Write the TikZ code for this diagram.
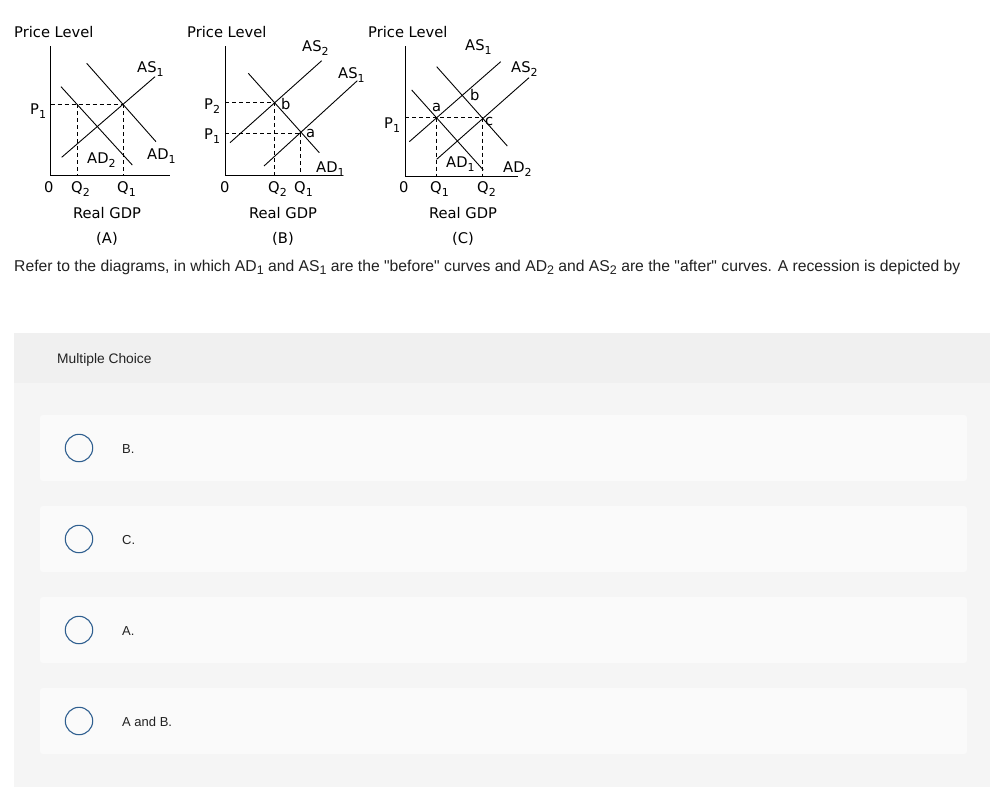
\documentclass[tikz,border=0pt]{standalone}
\usepackage{fontspec}
\setmainfont{Liberation Sans}
\newfontfamily\dgfont{DejaVu Sans}
\newcommand\sbs[1]{\raisebox{-0.6ex}{\fontsize{11}{11}\selectfont #1}}
\newcommand\tsb[1]{\raisebox{-0.45ex}{\fontsize{12.5}{12.5}\selectfont #1}}
\definecolor{txt}{HTML}{222222}
\definecolor{hdr}{HTML}{F0F0F0}
\definecolor{panel}{HTML}{F5F5F5}
\definecolor{optbg}{HTML}{FAFAFA}
\definecolor{radio}{HTML}{2F5F8F}
\tikzset{
  curve/.style={line width=0.9pt},
  axisline/.style={line width=1pt},
  guide/.style={line width=0.8pt, dash pattern=on 4pt off 3pt},
  lbl/.style={font=\dgfont\fontsize{14.7}{14.7}\selectfont, inner sep=0pt, anchor=base west},
  clbl/.style={font=\dgfont\fontsize{14.7}{14.7}\selectfont, inner sep=0pt, anchor=base},
  optbox/.style={fill=optbg, draw=none, rounded corners=3pt},
  radiobtn/.style={circle, draw=radio, line width=1.1pt, minimum size=27.4pt, inner sep=0pt},
  opttxt/.style={font=\fontsize{13}{13}\selectfont, text=txt, inner sep=0pt, anchor=base west}
}
\begin{document}
\begin{tikzpicture}[x=1pt,y=-1pt]
\useasboundingbox (0,0) rectangle (990,787);
\fill[white] (0,0) rectangle (990,787);

% ---------- Graph A ----------
\coordinate (Atop) at (50.7,46);
\coordinate (Ao) at (50.7,175);
\coordinate (Aend) at (170,175);
\draw[axisline] (Atop) -- (Ao) -- (Aend);
\coordinate (AAS1s) at (61.7,157.3); \coordinate (AAS1e) at (155,76.7);
\coordinate (AAD1s) at (86.7,63.3);  \coordinate (AAD1e) at (156,141.7);
\coordinate (AAD2s) at (61,86.7);    \coordinate (AAD2e) at (132.3,165);
\draw[curve] (AAS1s) -- (AAS1e);
\draw[curve] (AAD1s) -- (AAD1e);
\draw[curve] (AAD2s) -- (AAD2e);
\coordinate (AP1) at (50.7,104.3);
\coordinate (Ae1) at (123.3,104.3);
\coordinate (Ae2) at (77.3,104.3);
\coordinate (AQ1) at (123.3,175);
\coordinate (AQ2) at (77.3,175);
\draw[guide] (AP1) -- (Ae1);
\draw[guide] (Ae2) -- (AQ2);
\draw[guide] (Ae1) -- (AQ1);
\node[lbl] (Aplv) at (14,37) {Price Level};
\node[lbl] (AlP1) at (30,114) {P\sbs{1}};
\node[lbl] (AlAS1) at (137,72) {AS\sbs{1}};
\node[lbl] (AlAD1) at (147,159) {AD\sbs{1}};
\node[lbl] (AlAD2) at (87,163) {AD\sbs{2}};
\node[lbl] (Al0) at (44,192) {0};
\node[lbl] (AlQ2) at (71,192) {Q\sbs{2}};
\node[lbl] (AlQ1) at (117,192) {Q\sbs{1}};
\node[clbl] (Argdp) at (107,218) {Real GDP};
\node[clbl] (Acap) at (107,243) {(A)};

% ---------- Graph B ----------
\coordinate (Btop) at (225,46);
\coordinate (Bo) at (225,175);
\coordinate (Bend) at (340,175);
\draw[axisline] (Btop) -- (Bo) -- (Bend);
\coordinate (BAS2s) at (230,142.7); \coordinate (BAS2e) at (321.7,60.7);
\coordinate (BAS1s) at (264,166);   \coordinate (BAS1e) at (357.3,80.7);
\coordinate (BAD1s) at (248.3,73.3); \coordinate (BAD1e) at (319.3,152.7);
\draw[curve] (BAS2s) -- (BAS2e);
\draw[curve] (BAS1s) -- (BAS1e);
\draw[curve] (BAD1s) -- (BAD1e);
\coordinate (BP2) at (225,102);
\coordinate (Bb) at (274,102);
\coordinate (BP1) at (225,133.3);
\coordinate (Ba) at (300,133.3);
\coordinate (BQ2) at (274,175);
\coordinate (BQ1) at (300,175);
\draw[guide] (BP2) -- (Bb);
\draw[guide] (Bb) -- (BQ2);
\draw[guide] (BP1) -- (Ba);
\draw[guide] (Ba) -- (BQ1);
\node[lbl] (Bplv) at (187,37) {Price Level};
\node[lbl] (BlAS2) at (302,51) {AS\sbs{2}};
\node[lbl] (BlAS1) at (338,78) {AS\sbs{1}};
\node[lbl] (BlP2) at (204,109) {P\sbs{2}};
\node[lbl] (BlP1) at (204,139) {P\sbs{1}};
\node[lbl] (Blb) at (281,109) {b};
\node[lbl] (Bla) at (306,137) {a};
\node[lbl] (BlAD1) at (316,172) {AD\sbs{1}};
\node[lbl] (Bl0) at (220,192) {0};
\node[lbl] (BlQ2) at (268,192) {Q\sbs{2}};
\node[lbl] (BlQ1) at (294,192) {Q\sbs{1}};
\node[clbl] (Brgdp) at (283,218) {Real GDP};
\node[clbl] (Bcap) at (283,243) {(B)};

% ---------- Graph C ----------
\coordinate (Ctop) at (405,46);
\coordinate (Co) at (405,176);
\coordinate (Cend) at (518,176);
\draw[axisline] (Ctop) -- (Co) -- (Cend);
\coordinate (CAS1s) at (409.3,141.7); \coordinate (CAS1e) at (500.7,61.7);
\coordinate (CAS2s) at (436.7,159.3); \coordinate (CAS2e) at (529,77.7);
\coordinate (CAD1s) at (411.7,90);    \coordinate (CAD1e) at (483.3,170);
\coordinate (CAD2s) at (436.7,66.7);  \coordinate (CAD2e) at (507.3,146);
\draw[curve] (CAS1s) -- (CAS1e);
\draw[curve] (CAS2s) -- (CAS2e);
\draw[curve] (CAD1s) -- (CAD1e);
\draw[curve] (CAD2s) -- (CAD2e);
\coordinate (CP1) at (405,117.7);
\coordinate (Ca) at (436,117.7);
\coordinate (Cc) at (482.7,117.7);
\coordinate (CQ1) at (436,176);
\coordinate (CQ2) at (482.7,176);
\draw[guide] (CP1) -- (Cc);
\draw[guide] (Ca) -- (CQ1);
\draw[guide] (Cc) -- (CQ2);
\node[lbl] (Cplv) at (368,37) {Price Level};
\node[lbl] (ClAS1) at (465,50) {AS\sbs{1}};
\node[lbl] (ClAS2) at (511,72) {AS\sbs{2}};
\node[lbl] (ClP1) at (384,128) {P\sbs{1}};
\node[lbl] (Cla) at (432,111) {a};
\node[lbl] (Clb) at (470,100) {b};
\node[lbl] (Clc) at (485,125) {c};
\node[lbl] (ClAD1) at (446,167) {AD\sbs{1}};
\node[lbl] (ClAD2) at (503,172) {AD\sbs{2}};
\node[lbl] (Cl0) at (399,192) {0};
\node[lbl] (ClQ1) at (430,192) {Q\sbs{1}};
\node[lbl] (ClQ2) at (477,192) {Q\sbs{2}};
\node[clbl] (Crgdp) at (463,218) {Real GDP};
\node[clbl] (Ccap) at (463,243) {(C)};

% ---------- Question text ----------
\node[inner sep=0pt, anchor=base west, text=txt, font=\fontsize{15.7}{15.7}\selectfont] (question) at (14,271)
  {Refer to the diagrams, in which AD\tsb{1} and AS\tsb{1} are the \textquotedbl before\textquotedbl{} curves and AD\tsb{2} and AS\tsb{2} are the \textquotedbl after\textquotedbl{} curves. A recession is depicted by};

% ---------- Multiple choice panel ----------
\fill[panel] (14,333) rectangle (990,787);
\fill[hdr] (14,333) rectangle (990,383);
\node[inner sep=0pt, anchor=base west, text=txt, font=\fontsize{13.8}{13.8}\selectfont] (mc) at (57,363) {Multiple Choice};

\fill[optbox] (40,415) rectangle (967,481);
\fill[optbox] (40,506) rectangle (967,572);
\fill[optbox] (40,597) rectangle (967,663);
\fill[optbox] (40,688) rectangle (967,754);

\node[radiobtn] (r1) at (79,448) {};
\node[radiobtn] (r2) at (79,539) {};
\node[radiobtn] (r3) at (79,630) {};
\node[radiobtn] (r4) at (79,721) {};
\node[opttxt] (o1) at (122,453) {B.};
\node[opttxt] (o2) at (122,544) {C.};
\node[opttxt] (o3) at (122,635) {A.};
\node[opttxt] (o4) at (122,726) {A and B.};
\end{tikzpicture}
\end{document}
